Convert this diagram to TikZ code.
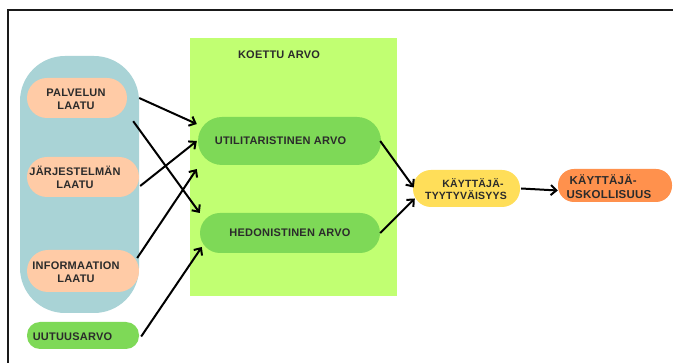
\documentclass[tikz,border=0pt]{standalone}
\usepackage{fontspec}
\setmainfont{Liberation Sans}
\newfontfamily\labfont{Liberation Sans}[LetterSpace=2]
\usetikzlibrary{arrows.meta,calc}
\definecolor{frameline}{HTML}{1A1A1A}
\definecolor{groupblue}{HTML}{A9D3D6}
\definecolor{panelgreen}{HTML}{C1FF72}
\definecolor{nodegreen}{HTML}{7ED957}
\definecolor{peach}{HTML}{FFCBA6}
\definecolor{sunyellow}{HTML}{FFDE59}
\definecolor{tangerine}{HTML}{FF914D}
\definecolor{ink}{HTML}{2B2B2B}
\tikzset{
  box/.style={rectangle, draw=none, inner sep=0pt},
  lbl/.style={font=\labfont\fontsize{11}{13}\selectfont\bfseries, text=ink, align=center, inner sep=0pt},
  flow/.style={draw=black, line width=2pt, -{Straight Barb[length=5.5pt,width=10pt,line width=2pt]}}
}
\begin{document}
\begin{tikzpicture}[x=1pt,y=-1pt]
\useasboundingbox (0,0) rectangle (673,363);
\fill[white] (0,0) rectangle (673,363);
% outer frame (top and left edges)
\draw[frameline, line width=1.6pt] (8,363) -- (8,10) -- (673,10);

% grouping shapes
\node[box, fill=groupblue, minimum width=119pt, minimum height=257pt, rounded corners=45pt] (grp) at (79.5,184.5) {};
\node[box, fill=panelgreen, minimum width=207pt, minimum height=258pt] (panel) at (293.5,167) {};
\node[lbl] (paneltitle) at (279,55) {KOETTU ARVO};

% quality factors
\node[box, fill=peach, minimum width=100pt, minimum height=40pt, rounded corners=20pt] (pal) at (77,98) {};
\node[lbl] (palt) at (76,99) {PALVELUN\\LAATU};
\node[box, fill=peach, minimum width=112pt, minimum height=40pt, rounded corners=20pt] (jar) at (83,177) {};
\node[lbl] (jart) at (75,177) {JÄRJESTELMÄN\\LAATU};
\node[box, fill=peach, minimum width=112pt, minimum height=42pt, rounded corners=21pt] (inf) at (83,271) {};
\node[lbl] (inft) at (76,272) {INFORMAATION\\LAATU};
\node[box, fill=nodegreen, minimum width=112pt, minimum height=27pt, rounded corners=13pt] (uut) at (83,335.5) {};
\node[lbl] (uutt) at (72.5,337) {UUTUUSARVO};

% perceived value
\node[box, fill=nodegreen, minimum width=183pt, minimum height=48pt, rounded corners=24pt] (util) at (289.5,141) {};
\node[lbl] (utilt) at (280.5,141) {UTILITARISTINEN ARVO};
\node[box, fill=nodegreen, minimum width=180pt, minimum height=40pt, rounded corners=20pt] (hed) at (290,233) {};
\node[lbl] (hedt) at (290,233) {HEDONISTINEN ARVO};

% outcomes
\node[box, fill=sunyellow, minimum width=107pt, minimum height=37pt, rounded corners=18pt] (tyy) at (466.5,188.5) {};
\node[lbl, font=\labfont\fontsize{10.5}{11.5}\selectfont\bfseries] (tyyt) at (466,189) {\hspace*{14pt}KÄYTTÄJÄ-\\TYYTYVÄISYYS};
\node[box, fill=tangerine, minimum width=114pt, minimum height=33pt, rounded corners=16pt] (usk) at (615,185.5) {};
\node[lbl, font=\labfont\fontsize{11.5}{14}\selectfont\bfseries, align=left] (uskt) at (609,187) {\hspace*{3pt}KÄYTTÄJÄ-\\USKOLLISUUS};

% connectors
\draw[flow] (grp.east |- pal) -- ($(util.west)+(-1,-17)$);
\draw[flow] ($(pal.south east)+(6,3)$) -- ($(hed.west)+(0,-20)$);
\draw[flow] ($(jar.east)+(1,9)$) -- ($(util.west)+(-1,0)$);
\draw[flow] ($(inf.east)+(-2,-13)$) -- ($(util.west)+(-1,28)$);
\draw[flow] ($(uut.east)+(2,1)$) -- ($(hed.west)+(2,14)$);
\draw[flow] ($(util.east)+(-1,0)$) -- ($(tyy.west)+(1,-1)$);
\draw[flow] (hed.east) -- ($(tyy.west)+(2,10)$);
\draw[flow] ($(tyy.east)+(1,0)$) -- ($(usk.west)+(0,5)$);
\end{tikzpicture}
\end{document}
